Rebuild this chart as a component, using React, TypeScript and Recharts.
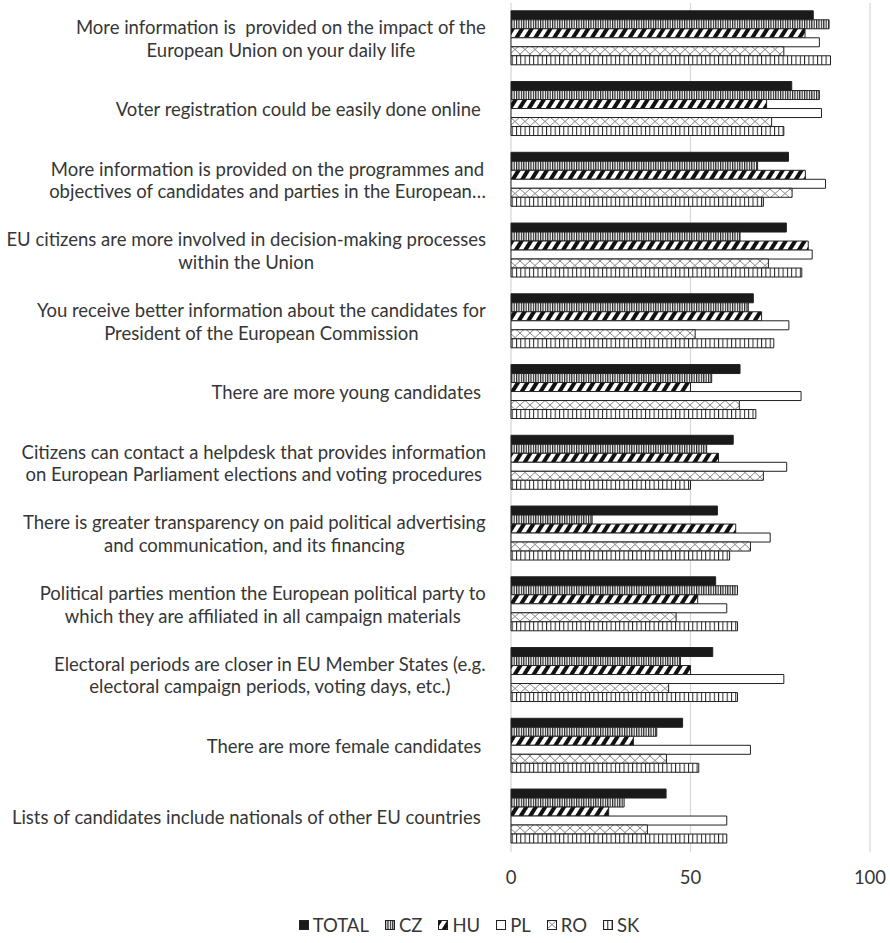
import React from 'react';
import { BarChart, Bar, XAxis, YAxis, CartesianGrid, Legend } from 'recharts';

const categories = [
  ['More information is  provided on the impact of the', 'European Union on your daily life'],
  ['Voter registration could be easily done online '],
  ['More information is provided on the programmes and', 'objectives of candidates and parties in the European…'],
  ['EU citizens are more involved in decision-making processes', 'within the Union'],
  ['You receive better information about the candidates for', 'President of the European Commission'],
  ['There are more young candidates '],
  ['Citizens can contact a helpdesk that provides information', 'on European Parliament elections and voting procedures'],
  ['There is greater transparency on paid political advertising', 'and communication, and its financing'],
  ['Political parties mention the European political party to', 'which they are affiliated in all campaign materials'],
  ['Electoral periods are closer in EU Member States (e.g.', 'electoral campaign periods, voting days, etc.)'],
  ['There are more female candidates '],
  ['Lists of candidates include nationals of other EU countries '],
];

const total = [84.2, 78.2, 77.3, 76.7, 67.5, 63.8, 61.9, 57.5, 57.0, 56.2, 47.8, 43.2];
const cz = [88.6, 85.9, 68.7, 63.8, 66.1, 55.9, 54.5, 22.6, 63.1, 47.2, 40.6, 31.5];
const hu = [81.9, 71.2, 82.0, 82.8, 69.8, 50.0, 57.8, 62.6, 52.0, 50.0, 34.1, 27.2];
const pl = [85.9, 86.5, 87.6, 83.9, 77.4, 80.8, 76.8, 72.2, 60.1, 76.0, 66.7, 60.1];
const ro = [76.0, 72.6, 78.3, 71.7, 51.3, 63.6, 70.3, 66.7, 46.0, 43.9, 43.3, 38.0];
const sk = [89.0, 76.0, 70.3, 81.0, 73.2, 68.2, 50.0, 60.9, 63.1, 63.1, 52.3, 60.1];

const xTicks = [0, 50, 100];

const series = [
  { key: 'TOTAL', fill: '#1a1a1a' },
  { key: 'CZ', fill: 'url(#patCZ)' },
  { key: 'HU', fill: 'url(#patHU)' },
  { key: 'PL', fill: '#ffffff' },
  { key: 'RO', fill: 'url(#patRO)' },
  { key: 'SK', fill: 'url(#patSK)' },
];

const data = categories.map((lines, i) => ({
  name: lines.join(' '),
  lines,
  TOTAL: total[i],
  CZ: cz[i],
  HU: hu[i],
  PL: pl[i],
  RO: ro[i],
  SK: sk[i],
}));

const FONT = 'Lato, "Open Sans", sans-serif';
const FS = 18.5;
const TEXT = '#363636';

let ctx: CanvasRenderingContext2D | null = null;
const measure = (s: string) => {
  if (!ctx) {
    ctx = document.createElement('canvas').getContext('2d');
  }
  if (!ctx) return s.length * 8;
  ctx.font = `${FS}px Lato`;
  return ctx.measureText(s).width;
};

const CategoryTick = ({ y, payload }: { y?: number; payload?: { index: number } }) => {
  const lines = categories[payload?.index ?? 0];
  const w = Math.max(...lines.map(measure));
  const right = 486;
  const cx = right - w / 2;
  const lh = 22.5;
  const y0 = (y ?? 0) - ((lines.length - 1) * lh) / 2;
  return (
    <text x={cx} y={y0} textAnchor="middle" fill={TEXT} fontSize={FS} fontFamily={FONT} dominantBaseline="central" style={{ whiteSpace: 'pre' }}>
      {lines.map((l, i) => (
        <tspan key={i} x={cx} y={y0 + i * lh}>{l}</tspan>
      ))}
    </text>
  );
};

const ValueTick = ({ x, y, payload }: { x?: number; y?: number; payload?: { value: number } }) => (
  <text x={x} y={(y ?? 0) + 32} textAnchor="middle" fill={TEXT} fontSize={FS} fontFamily={FONT}>
    {payload?.value}
  </text>
);

const LegendContent = () => (
  <div style={{ display: 'flex', justifyContent: 'center', alignItems: 'center', height: 30, paddingLeft: 84, fontFamily: FONT, fontSize: FS, color: TEXT }}>
    {series.map((s) => (
      <span key={s.key} style={{ display: 'inline-flex', alignItems: 'center', marginRight: 16 }}>
        <svg width={10} height={10} style={{ marginRight: 4 }}>
          <rect x={0.5} y={0.5} width={9} height={9} fill={s.fill} stroke="#222" strokeWidth={1} />
        </svg>
        {s.key}
      </span>
    ))}
  </div>
);

export default function App() {
  return (
    <div style={{ width: 890, height: 943 }}>
      <style>{'body{margin:0;background:#fff}'}</style>
      <BarChart
        width={890}
        height={943}
        data={data}
        layout="vertical"
        margin={{ top: 3, right: 20, bottom: 3, left: 0 }}
        barCategoryGap="11%"
        barGap={0}
      >
        <defs>
          <pattern id="patCZ" patternUnits="userSpaceOnUse" width={2.4} height={4}>
            <rect width={2.4} height={4} fill="#ffffff" />
            <rect width={1.2} height={4} fill="#222" />
          </pattern>
          <pattern id="patHU" patternUnits="userSpaceOnUse" width={8} height={8} patternTransform="rotate(32)">
            <rect width={8} height={8} fill="#ffffff" />
            <rect width={4} height={8} fill="#111" />
          </pattern>
          <pattern id="patRO" patternUnits="userSpaceOnUse" width={10} height={9}>
            <rect width={10} height={9} fill="#ffffff" />
            <path d="M0,0 L10,9 M10,0 L0,9" stroke="#888" strokeWidth={1} />
          </pattern>
          <pattern id="patSK" patternUnits="userSpaceOnUse" width={4.3} height={4}>
            <rect width={4.3} height={4} fill="#ffffff" />
            <rect width={1} height={4} fill="#222" />
          </pattern>
        </defs>
        <CartesianGrid horizontal={false} stroke="#d9d9d9" strokeWidth={1.3} />
        <XAxis
          type="number"
          domain={[0, 100]}
          ticks={xTicks}
          axisLine={false}
          tickLine={false}
          tickSize={0}
          tickMargin={0}
          height={58}
          tick={<ValueTick />}
          interval={0}
        />
        <YAxis
          type="category"
          dataKey="name"
          width={511}
          axisLine={false}
          tickLine={false}
          tick={<CategoryTick />}
          interval={0}
        />
        <Legend verticalAlign="bottom" content={<LegendContent />} />
        {series.map((s) => (
          <Bar key={s.key} dataKey={s.key} fill={s.fill} stroke="#222" strokeWidth={1} isAnimationActive={false} />
        ))}
      </BarChart>
    </div>
  );
}
